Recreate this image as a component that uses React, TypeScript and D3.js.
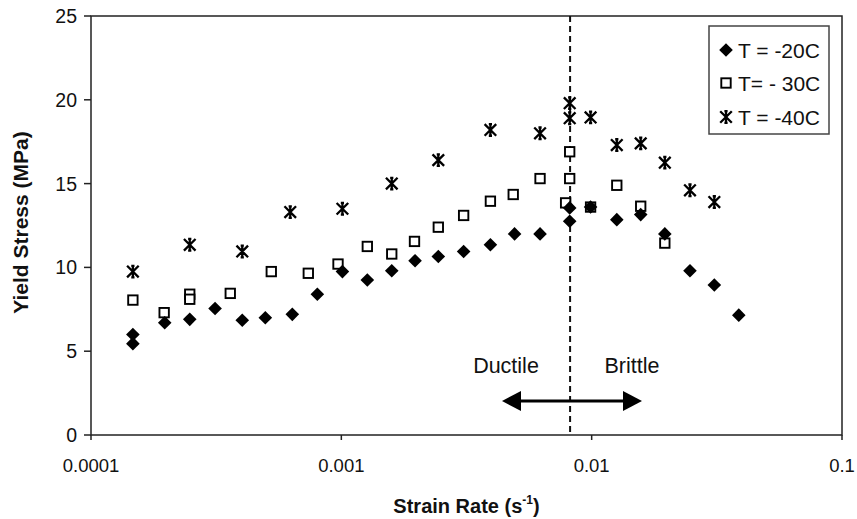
import React from "react";
import * as d3 from "d3";

// ---------- data ----------
const t20Rate = [0.000147, 0.000147, 0.000197, 0.000248, 0.000313, 0.000402, 0.000497, 0.000637, 0.000802, 0.00101, 0.00127, 0.00159, 0.00197, 0.00244, 0.00308, 0.00394, 0.00492, 0.00622, 0.00817, 0.00817, 0.0099, 0.0126, 0.0157, 0.0196, 0.0247, 0.0309, 0.0387];
const t20Stress = [6.0, 5.45, 6.7, 6.9, 7.55, 6.85, 7.0, 7.2, 8.4, 9.75, 9.25, 9.8, 10.4, 10.65, 10.95, 11.35, 12.0, 12.0, 13.55, 12.75, 13.6, 12.85, 13.15, 12.0, 9.8, 8.95, 7.15];

const t30Rate = [0.000147, 0.000196, 0.000248, 0.000248, 0.00036, 0.000525, 0.000738, 0.00097, 0.00127, 0.00159, 0.00196, 0.00244, 0.00308, 0.00394, 0.00486, 0.00622, 0.00817, 0.00817, 0.00787, 0.0099, 0.0126, 0.0157, 0.0196];
const t30Stress = [8.05, 7.3, 8.4, 8.1, 8.45, 9.75, 9.65, 10.2, 11.25, 10.8, 11.55, 12.4, 13.1, 13.95, 14.35, 15.3, 16.9, 15.3, 13.85, 13.6, 14.9, 13.65, 11.45];

const t40Rate = [0.000147, 0.000248, 0.000402, 0.000625, 0.00101, 0.00159, 0.00244, 0.00394, 0.00622, 0.00817, 0.00817, 0.0099, 0.0126, 0.0157, 0.0196, 0.0247, 0.0309];
const t40Stress = [9.75, 11.35, 10.95, 13.3, 13.5, 15.0, 16.4, 18.2, 18.0, 19.8, 18.9, 18.95, 17.3, 17.4, 16.25, 14.6, 13.9];

const xTicks = [0.0001, 0.001, 0.01, 0.1];
const xTickLabels = ["0.0001", "0.001", "0.01", "0.1"];
const yTicks = [0, 5, 10, 15, 20, 25];
const legendLabels = ["T = -20C", "T= - 30C", "T = -40C"];
const transitionRate = 0.0082;
const regionLabels = ["Ductile", "Brittle"];

// ---------- layout ----------
const W = 857;
const H = 519;
const L = 91, R = 842, T = 16, B = 435;
const FONT = "'Liberation Sans', Arial, Helvetica, sans-serif";

const x = d3.scaleLog().domain([0.0001, 0.1]).range([L, R]);
const y = d3.scaleLinear().domain([0, 25]).range([B, T]);

function Diamond({ cx, cy }: { cx: number; cy: number }) {
  const s = 6.8;
  return <path d={`M${cx},${cy - s}L${cx + s},${cy}L${cx},${cy + s}L${cx - s},${cy}Z`} fill="#000" />;
}
function Square({ cx, cy }: { cx: number; cy: number }) {
  const s = 4.7;
  return <rect x={cx - s} y={cy - s} width={2 * s} height={2 * s} fill="#fff" stroke="#000" strokeWidth={1.9} />;
}
function Star({ cx, cy }: { cx: number; cy: number }) {
  const s = 5.8;
  const c = 1.6;
  const d = `M${cx - s},${cy - s}L${cx + s},${cy + s}M${cx - s},${cy + s}L${cx + s},${cy - s}M${cx},${cy - s}L${cx},${cy + s}M${cx - c},${cy - s}L${cx + c},${cy - s}M${cx - c},${cy + s}L${cx + c},${cy + s}`;
  return <path d={d} stroke="#000" strokeWidth={2.3} fill="none" />;
}

export default function App() {
  const lx = 726;
  const rows = [50, 83, 117];
  const ax = x(transitionRate);
  const arrowY = 401;
  const leftTip = 502, rightTip = 642, headLen = 19, headHalf = 10;
  return (
    <svg width={W} height={H} style={{ position: "absolute", left: 0, top: 0, background: "#fff" }} fontFamily={FONT}>
      <rect x={0} y={0} width={W} height={H} fill="#fff" />
      {/* frame */}
      <rect x={L} y={T} width={R - L} height={B - T} fill="none" stroke="#222" strokeWidth={1.5} />
      {/* y ticks */}
      {yTicks.map((t) => (
        <g key={"y" + t}>
          <line x1={L - 7} x2={L} y1={y(t)} y2={y(t)} stroke="#222" strokeWidth={1.5} />
          <text x={77} y={y(t)} dy="0.36em" textAnchor="end" fontSize={19.5} fill="#111">{t}</text>
        </g>
      ))}
      {/* x ticks */}
      {xTicks.map((t, i) => (
        <g key={"x" + t}>
          <line x1={x(t)} x2={x(t)} y1={B} y2={B + 5} stroke="#222" strokeWidth={1.5} />
          <text x={x(t)} y={472} textAnchor="middle" fontSize={18.5} fill="#111">{xTickLabels[i]}</text>
        </g>
      ))}
      {/* axis titles */}
      <text x={(L + R) / 2} y={513} textAnchor="middle" fontSize={20} fontWeight="bold" fill="#111">
        Strain Rate (s<tspan fontSize={12} dy={-9}>-1</tspan><tspan dy={9}>)</tspan>
      </text>
      <text transform={`translate(28,${(T + B) / 2 - 3}) rotate(-90)`} textAnchor="middle" fontSize={21} fontWeight="bold" fill="#111">
        Yield Stress (MPa)
      </text>
      {/* transition line */}
      <line x1={ax} x2={ax} y1={T} y2={B} stroke="#111" strokeWidth={2} strokeDasharray="6,4" />
      {/* data */}
      {t40Rate.map((r, i) => <Star key={"s" + i} cx={x(r)} cy={y(t40Stress[i])} />)}
      {t30Rate.map((r, i) => <Square key={"q" + i} cx={x(r)} cy={y(t30Stress[i])} />)}
      {t20Rate.map((r, i) => <Diamond key={"d" + i} cx={x(r)} cy={y(t20Stress[i])} />)}
      {/* annotation */}
      <text x={506} y={373} textAnchor="middle" fontSize={21.5} fill="#111">{regionLabels[0]}</text>
      <text x={632} y={373} textAnchor="middle" fontSize={21.5} fill="#111">{regionLabels[1]}</text>
      <line x1={leftTip + headLen - 2} x2={rightTip - headLen + 2} y1={arrowY} y2={arrowY} stroke="#000" strokeWidth={3} />
      <path d={`M${leftTip},${arrowY}L${leftTip + headLen},${arrowY - headHalf}L${leftTip + headLen},${arrowY + headHalf}Z`} fill="#000" />
      <path d={`M${rightTip},${arrowY}L${rightTip - headLen},${arrowY - headHalf}L${rightTip - headLen},${arrowY + headHalf}Z`} fill="#000" />
      {/* legend */}
      <rect x={709} y={26} width={120} height={108} fill="#fff" stroke="#444" strokeWidth={1.5} />
      <Diamond cx={lx} cy={rows[0]} />
      <Square cx={lx} cy={rows[1]} />
      <Star cx={lx} cy={rows[2]} />
      {legendLabels.map((l, i) => (
        <text key={l} x={738} y={rows[i]} dy="0.36em" fontSize={21} fill="#111">{l}</text>
      ))}
    </svg>
  );
}
